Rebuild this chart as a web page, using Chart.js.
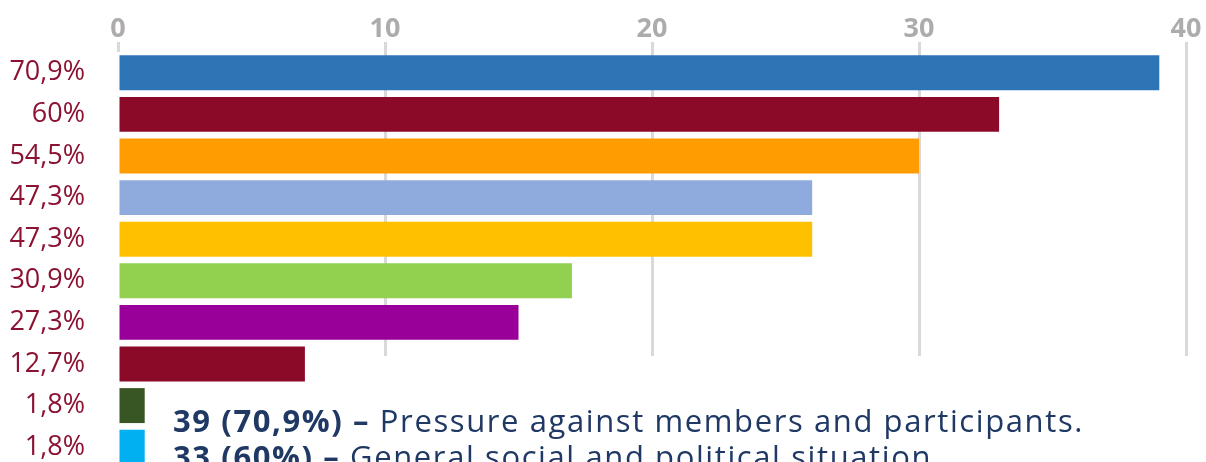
<!DOCTYPE html>
<html>
<head>
<meta charset="utf-8">
<script src="https://cdn.jsdelivr.net/npm/chart.js@4/dist/chart.umd.min.js"></script>
<style>
  html, body { margin: 0; padding: 0; background: #fff; overflow: hidden; }
  #wrap { position: relative; width: 1206px; height: 462px; overflow: hidden; }
  #reasonsChart { position: absolute; left: 0; top: 0; width: 1206px; height: 468px; }
  /* white panel under the notes, keeps grid lines out of the text area */
  #panel { position: absolute; left: 314px; top: 356px; right: 0; bottom: 0; background: #fff; }
  #notes {
    position: absolute; left: 173px; top: 402px;
    font-family: 'Open Sans', sans-serif; font-size: 31px; line-height: 36px;
    letter-spacing: 1.6px; color: #1f3864; white-space: nowrap;
  }
  #notes b { font-weight: 700; }
</style>
</head>
<body>
<div id="wrap">
  <canvas id="reasonsChart" width="1206" height="468"></canvas>
  <div id="panel"></div>
  <div id="notes"></div>
</div>
<script>
// Data
const percentLabels = ['70,9%', '60%', '54,5%', '47,3%', '47,3%', '30,9%', '27,3%', '12,7%', '1,8%', '1,8%'];
const counts = [39, 33, 30, 26, 26, 17, 15, 7, 1, 1];
const barColors = ['#2e75b6', '#8b0a28', '#ff9c00', '#8faadc', '#ffc000', '#92d050', '#990099', '#8b0a28', '#375623', '#00b0f0'];
const reasons = ['Pressure against members and participants.', 'General social and political situation.'];
const xTicks = [0, 10, 20, 30, 40];

// Notes under the chart
const notes = document.getElementById('notes');
reasons.forEach((text, i) => {
  const line = document.createElement('div');
  line.innerHTML = `<b>${counts[i]} (${percentLabels[i]}) –</b> ${text}`;
  notes.appendChild(line);
});

const ctx = document.getElementById('reasonsChart');
new Chart(ctx, {
  type: 'bar',
  data: {
    labels: percentLabels,
    datasets: [{
      data: counts,
      backgroundColor: barColors,
      borderWidth: 0,
      barPercentage: 0.84,
      categoryPercentage: 1
    }]
  },
  options: {
    indexAxis: 'y',
    responsive: false,
    maintainAspectRatio: false,
    animation: false,
    layout: { padding: { top: 0, right: 20, bottom: 0, left: 0 } },
    plugins: {
      legend: { display: false },
      tooltip: { enabled: false }
    },
    scales: {
      x: {
        position: 'top',
        min: xTicks[0],
        max: xTicks[xTicks.length - 1],
        ticks: {
          stepSize: 10,
          color: '#aeabab',
          padding: -4,
          font: { family: 'Open Sans', size: 27, weight: 'bold' }
        },
        grid: {
          // no line along the zero base, only its small tick
          color: c => (c.tick && c.tick.value === 0 ? 'rgba(0,0,0,0)' : '#d9d9d9'),
          tickColor: '#d9d9d9',
          lineWidth: 3,
          tickLength: 10
        },
        border: { display: false },
        afterFit(scale) { scale.height = 52; }
      },
      y: {
        ticks: {
          color: '#8c1232',
          padding: 33,
          font: { family: 'Open Sans', size: 27 }
        },
        grid: { display: false, drawTicks: false },
        border: { display: false },
        afterFit(scale) {
          scale.width = 118;
          // label padding should not shrink the plot vertically
          scale.paddingTop = 0;
          scale.paddingBottom = 0;
        }
      }
    }
  }
});
</script>
</body>
</html>
